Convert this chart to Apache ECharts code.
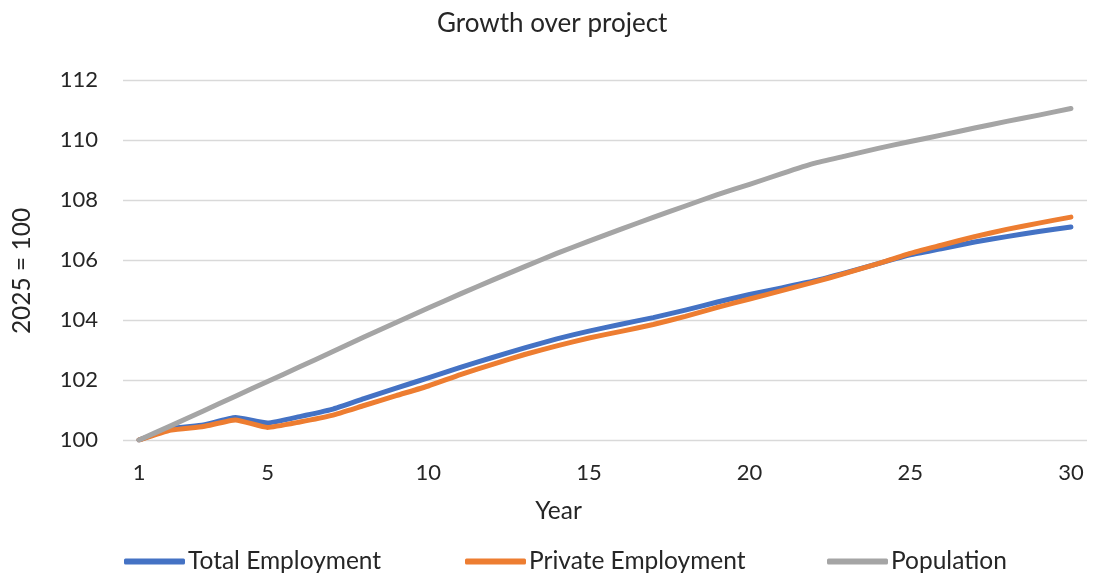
<!DOCTYPE html>
<html><head><meta charset="utf-8">
<script src="https://cdn.jsdelivr.net/npm/echarts@6/dist/echarts.min.js"></script>
<style>html,body{margin:0;padding:0;background:#fff}#c{width:1097px;height:576px}</style>
</head><body><div id="c"></div>
<script>
var years = [1,2,3,4,5,6,7,8,9,10,11,12,13,14,15,16,17,18,19,20,21,22,23,24,25,26,27,28,29,30];
var totalEmployment = [100,100.38,100.5,100.75,100.57,100.78,101.02,101.38,101.73,102.07,102.42,102.75,103.07,103.37,103.63,103.86,104.08,104.33,104.6,104.85,105.07,105.3,105.58,105.88,106.17,106.38,106.6,106.78,106.95,107.1];
var privateEmployment = [100,100.33,100.45,100.67,100.42,100.6,100.82,101.15,101.48,101.8,102.18,102.52,102.85,103.14,103.4,103.62,103.85,104.12,104.42,104.7,104.98,105.26,105.56,105.88,106.22,106.5,106.78,107.02,107.23,107.43];
var population = [100,100.48,100.97,101.46,101.95,102.44,102.93,103.43,103.92,104.4,104.87,105.33,105.78,106.22,106.63,107.03,107.42,107.8,108.18,108.52,108.88,109.22,109.47,109.72,109.95,110.17,110.4,110.62,110.83,111.05];
var yTicks = [100,102,104,106,108,110,112];
var xLabelYears = [1,5,10,15,20,25,30];

var FONT = 'Lato, "Open Sans", sans-serif';
var TXT = '#262626';
var chart = echarts.init(document.getElementById('c'), null, {renderer:'canvas'});
function legendAt(left, name){
  return {data:[name], left:left, top:544, itemWidth:61, itemHeight:6, icon:'roundRect', itemGap:4,
    textStyle:{fontFamily:FONT, fontSize:24.5, color:TXT, padding:[0,0,0,-2]}};
}
chart.setOption({
  animation:false,
  title:{text:'Growth over project', left:432, top:6, textStyle:{fontFamily:FONT, fontSize:26, fontWeight:'normal', color:TXT}},
  legend:[legendAt(119,'Total Employment'), legendAt(460,'Private Employment'), legendAt(822,'Population')],
  grid:{left:123, right:10, top:80, bottom:136, containLabel:false},
  xAxis:{type:'category', data:years, boundaryGap:true,
    name:'Year', nameLocation:'middle', nameGap:59, nameTextStyle:{fontFamily:FONT, fontSize:24.5, color:TXT, padding:[0,93,0,0]},
    axisLine:{show:false}, axisTick:{show:false},
    axisLabel:{interval:function(i,v){return xLabelYears.indexOf(+v)>=0;}, margin:22, fontFamily:FONT, fontSize:22, color:TXT}},
  yAxis:{type:'value', min:yTicks[0], max:yTicks[yTicks.length-1], interval:2,
    name:'2025 = 100', nameLocation:'middle', nameGap:88, nameRotate:90, nameTextStyle:{fontFamily:FONT, fontSize:24.5, color:TXT, padding:[0,22,0,0]},
    axisLine:{show:false}, axisTick:{show:false},
    axisLabel:{margin:25, fontFamily:FONT, fontSize:22, color:TXT},
    splitLine:{lineStyle:{color:'#d9d9d9', width:1.3}}},
  series:[
    {name:'Total Employment', type:'line', data:totalEmployment, symbol:'none', smooth:0.15, lineStyle:{color:'#4472C4', width:5, cap:'round', join:'round'}, itemStyle:{color:'#4472C4'}},
    {name:'Private Employment', type:'line', data:privateEmployment, symbol:'none', smooth:0.15, lineStyle:{color:'#ED7D31', width:5, cap:'round', join:'round'}, itemStyle:{color:'#ED7D31'}},
    {name:'Population', type:'line', data:population, symbol:'none', smooth:0.15, lineStyle:{color:'#A5A5A5', width:5, cap:'round', join:'round'}, itemStyle:{color:'#A5A5A5'}}
  ]
});
</script></body></html>
